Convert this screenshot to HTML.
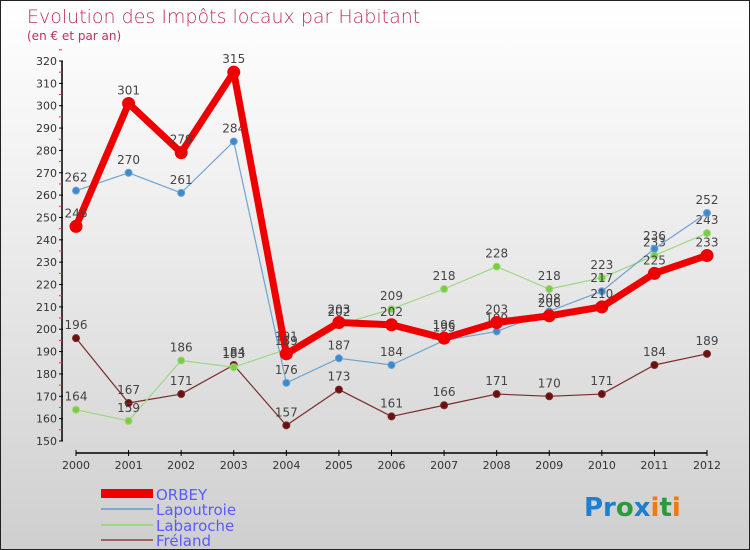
<!DOCTYPE html>
<html><head><meta charset="utf-8"><style>
body{margin:0}
#c{width:750px;height:550px;position:relative;overflow:hidden;background:linear-gradient(#ffffff,#f2f2f2 30%,#cfcfcf);border:1px solid #222;box-sizing:border-box;font-family:"DejaVu Sans","Liberation Sans",sans-serif}
</style></head><body>
<div id="c">
<svg id="s" width="750" height="550" style="position:absolute;left:0;top:0">
<text x="26" y="22" font-size="19" fill="#c0305c" font-weight="200" style="font-family:'DejaVu Sans ExtraLight','DejaVu Sans',sans-serif">Evolution des Impôts locaux par Habitant</text>
<text x="26" y="39" font-size="12" fill="#c0305c" style="font-family:'DejaVu Sans ExtraLight','DejaVu Sans',sans-serif">(en € et par an)</text>
<g id="axes"></g><g id="series"></g>
<g>
<rect x="100" y="488" width="52" height="9" fill="#e00"/>
<text x="155" y="499" font-size="15" fill="#5a5aff">ORBEY</text>
<rect x="100" y="507" width="52" height="2" fill="#7aaad0"/>
<text x="155" y="514" font-size="15" fill="#5a5aff">Lapoutroie</text>
<rect x="100" y="523" width="52" height="2" fill="#9ed880"/>
<text x="155" y="530" font-size="15" fill="#5a5aff">Labaroche</text>
<rect x="100" y="538" width="52" height="2" fill="#9a6464"/>
<text x="155" y="545" font-size="15" fill="#5a5aff">Fréland</text>
</g>
<text x="583" y="515" font-size="26" font-weight="bold"><tspan fill="#1e7fd0">Pr</tspan><tspan fill="#2a9a3a">o</tspan><tspan fill="#1e7fd0">x</tspan><tspan fill="#f07a10">i</tspan><tspan fill="#2a9a3a">t</tspan><tspan fill="#f07a10">i</tspan></text>
</svg>
</div>
<script>
const years=[2000,2001,2002,2003,2004,2005,2006,2007,2008,2009,2010,2011,2012];
const orbey=[246,301,279,315,189,203,202,196,203,206,210,225,233];
const lapoutroie=[262,270,261,284,176,187,184,195,199,208,217,236,252];
const labaroche=[164,159,186,183,191,202,209,218,228,218,223,233,243];
const freland=[196,167,171,184,157,173,161,166,171,170,171,184,189];
const yTicks=[150,160,170,180,190,200,210,220,230,240,250,260,270,280,290,300,310,320];
const NS="http://www.w3.org/2000/svg";
const X=i=>75+i*(706-75)/(years.length-1);
const Y=v=>440-(v-150)*(380/170);
function mk(t,a,p){const e=document.createElementNS(NS,t);for(const k in a)e.setAttribute(k,a[k]);p.appendChild(e);return e;}
const ax=document.getElementById('axes');
const ya=mk('line',{x1:61,y1:Y(320),x2:61,y2:Y(150),stroke:'#000','stroke-width':1.5},ax);


yTicks.forEach(v=>{
 const t=mk('line',{x1:58,x2:62,y1:Y(v),y2:Y(v),stroke:'#000'},ax);
 
 
 const m=mk('line',{x1:58,x2:61,y1:Y(v+5),y2:Y(v+5),stroke:'#e33'},ax);
 
 
 const l=mk('text',{x:56,y:Y(v)+4,'text-anchor':'end','font-size':11,fill:'#333'},ax);
 l.textContent=v;
 
 
});
const xa=mk('line',{x1:X(0),y1:452,x2:X(12),y2:452,stroke:'#000','stroke-width':1.5},ax);


years.forEach((yr,i)=>{
 const t=mk('line',{x1:X(i),x2:X(i),y1:449,y2:455,stroke:'#000'},ax);
 
 
 const l=mk('text',{x:X(i),y:468,'text-anchor':'middle','font-size':11,fill:'#333'},ax);
 l.textContent=yr;
 
 
});
const sg=document.getElementById('series');
function draw(data,color,w,r,dot,name){
 const g=mk('g',{},sg);
 
 
 const pl=mk('polyline',{points:data.map((v,i)=>X(i)+','+Y(v)).join(' '),fill:'none',stroke:color,'stroke-width':w,'stroke-linejoin':'round'},g);
 
 
 data.forEach((v,i)=>{
  const c=mk('circle',{cx:X(i),cy:Y(v),r:r,fill:dot,stroke:color,'stroke-width':1},g);
  
  
  const t=mk('text',{x:X(i),y:Y(v)-9,'text-anchor':'middle','font-size':12,fill:'#444'},g);
  t.textContent=v;
  
  
 });
}
draw(freland,'#7a2a2a',1.2,3.5,'#6a1010','freland');
draw(labaroche,'#9ed880',1.2,3.5,'#7acc40','labaroche');
draw(lapoutroie,'#6fa3d0',1.2,3.5,'#3a8ad0','lapoutroie');
draw(orbey,'#ee0000',7,6,'#e00','orbey');
</script>
</body></html>
